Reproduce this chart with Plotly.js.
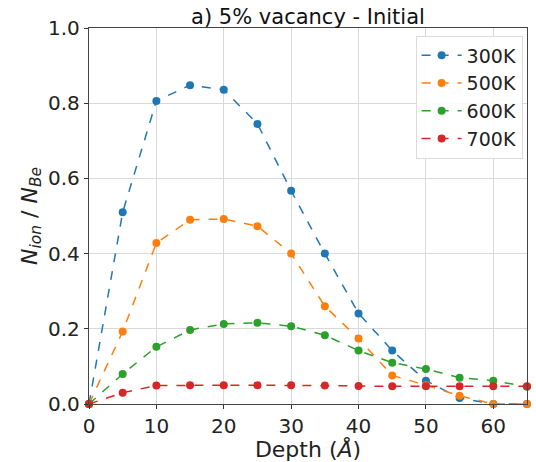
<!DOCTYPE html>
<html>
<head>
<meta charset="utf-8">
<script src="https://cdn.plot.ly/plotly-3.0.1.min.js"></script>
<style>
  html, body { margin: 0; padding: 0; background: #fff; }
  #chart { width: 536px; height: 462px; }
</style>
</head>
<body>
<div id="chart"></div>
<script>
// Depth in Å
const depth = [0, 5, 10, 15, 20, 25, 30, 35, 40, 45, 50, 55, 60, 65];

// Ion fraction N_ion / N_Be per temperature
const t300K = [0, 0.51, 0.806, 0.848, 0.836, 0.745, 0.567, 0.40, 0.241, 0.142, 0.062, 0.016, 0.0, 0.0];
const t500K = [0, 0.193, 0.428, 0.49, 0.492, 0.473, 0.40, 0.26, 0.174, 0.076, 0.05, 0.022, 0.0, 0.0];
const t600K = [0, 0.08, 0.152, 0.197, 0.213, 0.216, 0.207, 0.183, 0.142, 0.110, 0.093, 0.070, 0.062, 0.046];
const t700K = [0, 0.030, 0.049, 0.050, 0.050, 0.050, 0.050, 0.049, 0.048, 0.047, 0.047, 0.047, 0.047, 0.047];

const seriesNames = ['300K', '500K', '600K', '700K'];
const seriesValues = [t300K, t500K, t600K, t700K];
const colors = ['#1f77b4', '#ff7f0e', '#2ca02c', '#d62728'];

const traces = seriesValues.map((vals, i) => ({
  x: depth,
  y: vals,
  name: seriesNames[i],
  type: 'scatter',
  mode: 'lines+markers',
  line: { color: colors[i], width: 1.5, dash: 'dash' },
  marker: { color: colors[i], size: 8 },
  cliponaxis: false
}));

const font = 'DejaVu Sans, sans-serif';

const layout = {
  width: 536,
  height: 462,
  margin: { l: 89, r: 9, t: 28, b: 58 },
  paper_bgcolor: '#fff',
  plot_bgcolor: '#fff',
  font: { family: font, color: '#222', size: 20 },
  title: {
    text: 'a) 5% vacancy - Initial',
    font: { family: font, size: 21, color: '#111' },
    x: 0.5, xanchor: 'center', xref: 'paper',
    y: 1, yref: 'paper', yanchor: 'bottom', pad: { b: 4 }
  },
  xaxis: {
    range: [0, 65],
    tickvals: [0, 10, 20, 30, 40, 50, 60],
    ticks: 'outside', ticklen: 4, tickcolor: '#333',
    showgrid: true, gridcolor: '#d8d8d8', gridwidth: 1,
    zeroline: false,
    showline: true, linecolor: '#444', linewidth: 1.2, mirror: true,
    tickfont: { family: font, size: 20, color: '#222' },
    title: { text: 'Depth (<i>Å</i>)', font: { family: font, size: 22, color: '#222' }, standoff: 1 }
  },
  yaxis: {
    range: [0, 1.0],
    tickvals: [0, 0.2, 0.4, 0.6, 0.8, 1.0],
    ticktext: ['0.0', '0.2', '0.4', '0.6', '0.8', '1.0'],
    ticks: 'outside', ticklen: 4, tickcolor: '#333',
    showgrid: true, gridcolor: '#d8d8d8', gridwidth: 1,
    zeroline: false,
    showline: true, linecolor: '#444', linewidth: 1.2, mirror: true,
    tickfont: { family: font, size: 20, color: '#222' },
    title: {
      text: '<i>N</i><sub><i>ion</i></sub> / <i>N</i><sub><i>Be</i></sub>',
      font: { family: font, size: 22, color: '#222' }, standoff: 4
    }
  },
  legend: {
    x: 0.99, xanchor: 'right', y: 0.98, yanchor: 'top',
    bgcolor: 'rgba(255,255,255,0.9)',
    bordercolor: '#dcdcdc', borderwidth: 1,
    font: { family: font, size: 19, color: '#222' },
    itemwidth: 40,
    entrywidth: 110,
    tracegroupgap: 1
  },
  showlegend: true
};

Plotly.newPlot('chart', traces, layout, { displayModeBar: false, staticPlot: true });
</script>
</body>
</html>
